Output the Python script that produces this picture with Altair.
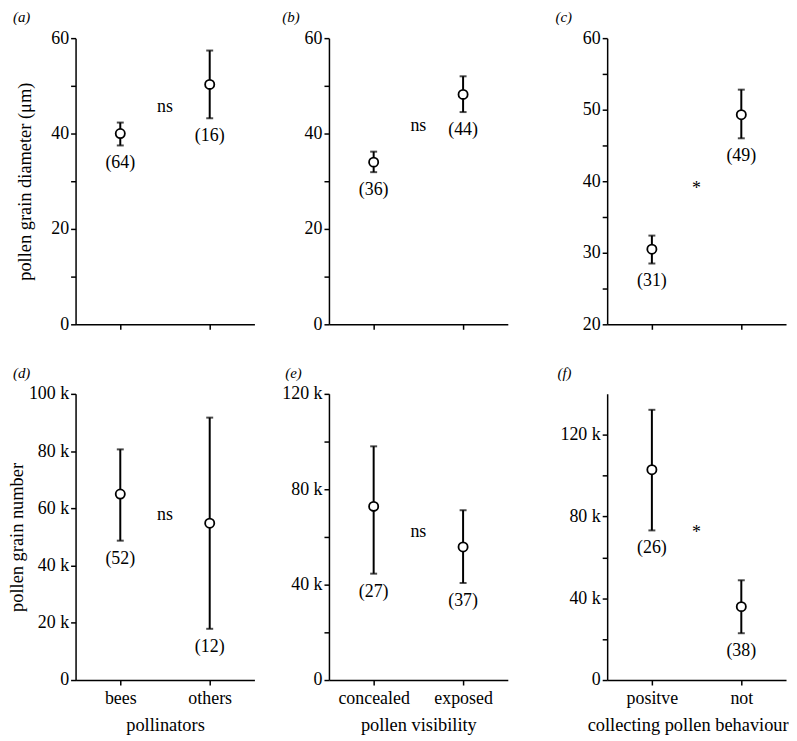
import json
import altair as alt
import pandas as pd

FONT = "Liberation Serif"

# ---------------- data ----------------
# (a) pollinators -> pollen grain diameter (um)
a_cats = ["bees", "others"]
a_mean = [40.0, 50.3]
a_lo = [37.5, 43.2]
a_hi = [42.3, 57.4]
a_n = [64, 16]
a_sig, a_sig_y = "ns", 45.6

# (b) pollen visibility -> diameter
b_cats = ["concealed", "exposed"]
b_mean = [34.0, 48.2]
b_lo = [31.9, 44.5]
b_hi = [36.2, 52.0]
b_n = [36, 44]
b_sig, b_sig_y = "ns", 41.5

# (c) collecting pollen behaviour -> diameter
c_cats = ["positve", "not"]
c_mean = [30.5, 49.3]
c_lo = [28.5, 46.0]
c_hi = [32.4, 52.8]
c_n = [31, 49]
c_sig, c_sig_y = "*", 38.9

# (d) pollinators -> pollen grain number
d_mean = [65000, 54800]
d_lo = [48700, 17900]
d_hi = [80600, 91700]
d_n = [52, 12]
d_sig, d_sig_y = "ns", 57500

# (e) pollen visibility -> number
e_mean = [72800, 55800]
e_lo = [44600, 40700]
e_hi = [98000, 71200]
e_n = [27, 37]
e_sig, e_sig_y = "ns", 62000

# (f) collecting pollen behaviour -> number
f_mean = [102900, 35900]
f_lo = [73200, 22900]
f_hi = [132200, 48800]
f_n = [26, 38]
f_sig, f_sig_y = "*", 72000

# axis ticks
diam_ticks = [0, 10, 20, 30, 40, 50, 60]
c_ticks = [20, 25, 30, 35, 40, 45, 50, 55, 60]
d_ticks = [0, 20000, 40000, 60000, 80000, 100000]
ef_ticks = [0, 20000, 40000, 60000, 80000, 100000, 120000]

W, H = 180, 288


def panel(letter, label_dx, cats, mean, lo, hi, n, sig, sig_y, ydom, yvals,
          ylabel_expr, ytitle=None, ytitle_x=None, min_extent=None,
          xtitle=None, xtitle_x=None, show_xlabels=False):
    df = pd.DataFrame({"pos": [0, 1], "cat": cats, "mean": mean, "lo": lo,
                       "hi": hi, "n": [f"({v})" for v in n]})
    sig_df = pd.DataFrame({"pos": [0.5], "y": [sig_y], "txt": [sig]})
    lab_df = pd.DataFrame({"t": [letter]})
    xs = alt.Scale(domain=[-0.5, 1.5], nice=False, zero=False)
    ys = alt.Scale(domain=ydom, nice=False, zero=False)

    xkw = dict(values=[0, 1], labelExpr=f"{json.dumps(cats)}[datum.value]",
               labels=show_xlabels, title=xtitle)
    if xtitle_x is not None:
        xkw["titleX"] = xtitle_x
    ykw = dict(values=yvals, labelExpr=ylabel_expr, title=ytitle)
    if ytitle is not None:
        ykw.update(titleX=ytitle_x, titleY=H / 2, titleBaseline="middle",
                   titleAlign="center", titleAngle=270)
    if min_extent is not None:
        ykw["minExtent"] = min_extent
    xax = alt.Axis(**xkw)
    yax = alt.Axis(**ykw)

    def X():
        return alt.X("pos:Q", scale=xs, axis=xax)

    def Y(field):
        return alt.Y(f"{field}:Q", scale=ys, axis=yax)

    base = alt.Chart(df)
    rule = base.mark_rule(color="black", strokeWidth=2).encode(
        x=X(), y=Y("lo"), y2="hi:Q")
    cap_lo = base.mark_tick(orient="horizontal", size=7, thickness=2,
                            color="black").encode(x=X(), y=Y("lo"))
    cap_hi = base.mark_tick(orient="horizontal", size=7, thickness=2,
                            color="black").encode(x=X(), y=Y("hi"))
    pt = base.mark_point(shape="circle", size=85, filled=False, fill="white",
                         fillOpacity=1, stroke="black", strokeWidth=1.8,
                         opacity=1).encode(x=X(), y=Y("mean"))
    ntext = base.mark_text(font=FONT, fontSize=18, dy=18, baseline="middle",
                           color="black").encode(x=X(), y=Y("lo"),
                                                 text="n:N")
    stext = alt.Chart(sig_df).mark_text(font=FONT, fontSize=18,
                                        baseline="middle",
                                        color="black").encode(
        x=X(), y=Y("y"), text="txt:N")
    # panel letter, placed just above the top-left corner of the panel
    ltext = alt.Chart(lab_df).mark_text(font=FONT, fontSize=15,
                                        fontStyle="italic", align="left",
                                        baseline="top", color="black").encode(
        x=alt.value(label_dx), y=alt.value(-28), text="t:N")
    return alt.layer(rule, cap_lo, cap_hi, pt, ntext, stext, ltext).properties(
        width=W, height=H)


diam_expr = "datum.value % 20 === 0 ? datum.label : ''"
c_expr = "datum.value % 10 === 0 ? datum.label : ''"
d_expr = "datum.value === 0 ? '0' : (datum.value / 1000) + ' k'"
ef_expr = ("datum.value % 40000 === 0 ? (datum.value === 0 ? '0' : "
           "(datum.value / 1000) + ' k') : ''")

pa = panel("(a)", -63, a_cats, a_mean, a_lo, a_hi, a_n, a_sig, a_sig_y,
           [0, 60], diam_ticks, diam_expr,
           ytitle="pollen grain diameter (μm)", ytitle_x=-51)
pb = panel("(b)", -47, b_cats, b_mean, b_lo, b_hi, b_n, b_sig, b_sig_y,
           [0, 60], diam_ticks, diam_expr, min_extent=51)
pc = panel("(c)", -52, c_cats, c_mean, c_lo, c_hi, c_n, c_sig, c_sig_y,
           [20, 60], c_ticks, c_expr, min_extent=76)
pd_ = panel("(d)", -63, a_cats, d_mean, d_lo, d_hi, d_n, d_sig, d_sig_y,
            [0, 100000], d_ticks, d_expr,
            ytitle="pollen grain number", ytitle_x=-59,
            xtitle="pollinators", show_xlabels=True)
pe = panel("(e)", -44, b_cats, e_mean, e_lo, e_hi, e_n, e_sig, e_sig_y,
           [0, 120000], ef_ticks, ef_expr, min_extent=51,
           xtitle="pollen visibility", show_xlabels=True)
pf = panel("(f)", -50, c_cats, f_mean, f_lo, f_hi, f_n, f_sig, f_sig_y,
           [0, 140000], ef_ticks, ef_expr, min_extent=76,
           xtitle="collecting pollen behaviour", xtitle_x=81,
           show_xlabels=True)

chart = alt.concat(
    pa, pb, pc, pd_, pe, pf, columns=3,
    spacing={"row": 33, "column": 24}, align="each", bounds="full"
).properties(
    padding={"left": 0, "top": 0, "right": 0, "bottom": 0}
).configure_view(stroke=None).configure_axis(
    domainColor="black", domainWidth=1.5, tickColor="black", tickWidth=1.5,
    tickSize=5, grid=False, labelFont=FONT, labelFontSize=18,
    labelColor="black", labelPadding=2, titleFont=FONT, titleFontSize=18.5,
    titleFontWeight="normal", titleColor="black"
).configure_axisX(labelPadding=5, titlePadding=8)

chart.save("out.html", embed_options={"renderer": "svg", "actions": False})
